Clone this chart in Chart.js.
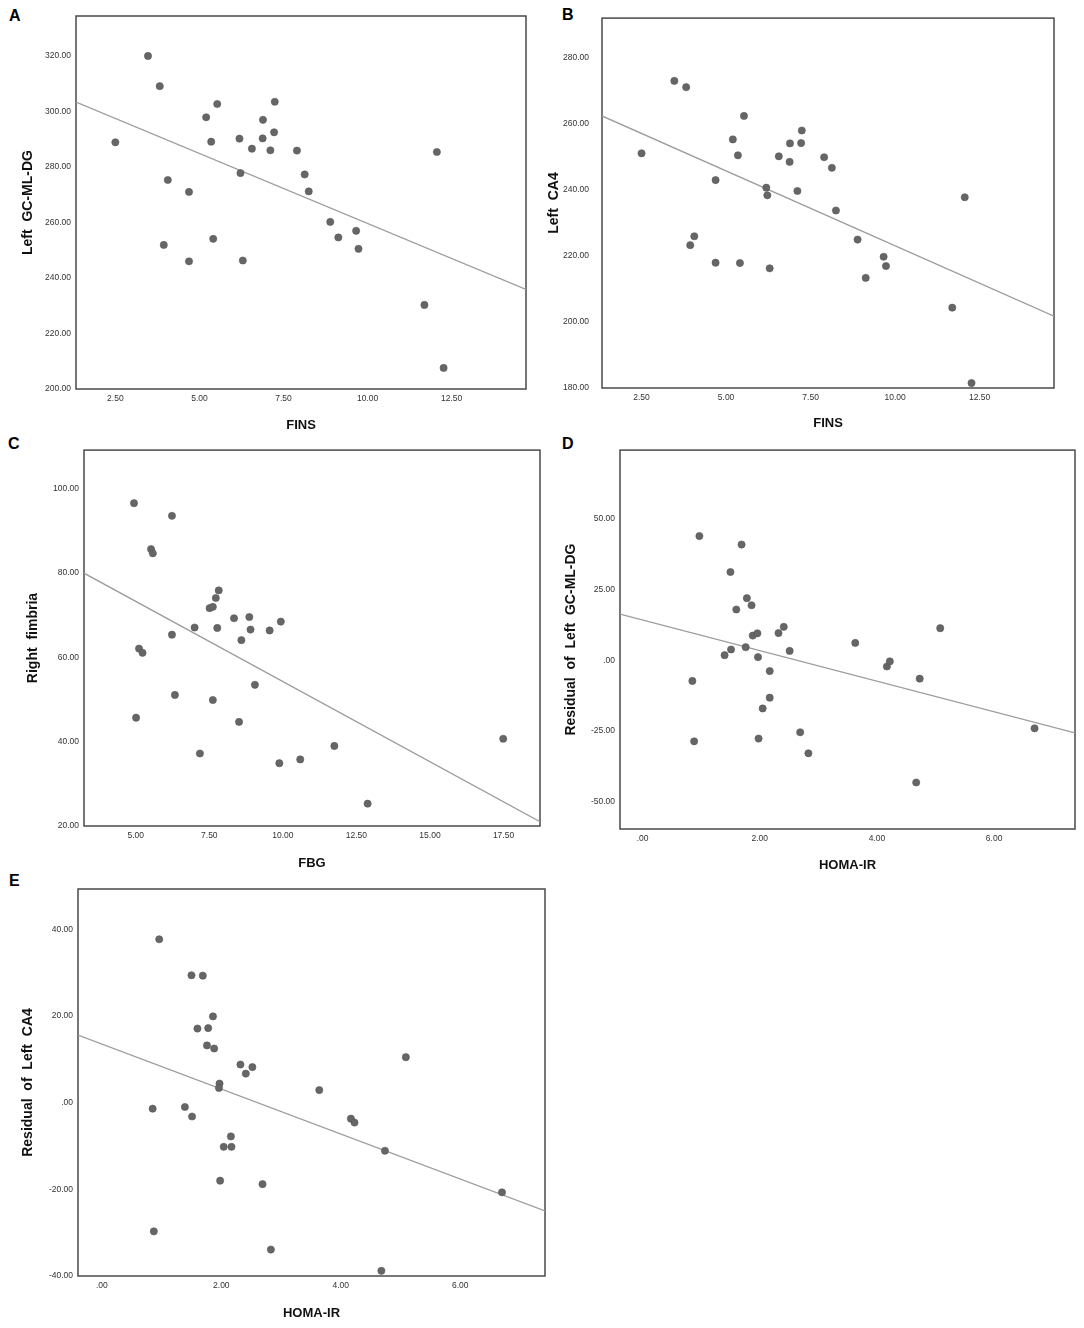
<!DOCTYPE html>
<html>
<head>
<meta charset="utf-8">
<script src="https://cdn.jsdelivr.net/npm/chart.js@4.4.0/dist/chart.umd.min.js"></script>
<style>
body { margin: 0; background: #fff; width: 1084px; height: 1328px; position: relative; overflow: hidden; font-family: "Liberation Sans", Arial, sans-serif; }
canvas { position: absolute; }
.tag { position: absolute; font-weight: bold; font-size: 16px; line-height: 16px; color: #000; }
</style>
</head>
<body>
<div class="tag" style="left:9px;top:8px">A</div>
<div class="tag" style="left:562px;top:7px">B</div>
<div class="tag" style="left:8px;top:436px">C</div>
<div class="tag" style="left:562px;top:436px">D</div>
<div class="tag" style="left:9px;top:873px">E</div>

<canvas id="chartA" width="540" height="440" style="left:0;top:0"></canvas>
<canvas id="chartB" width="544" height="440" style="left:540px;top:0"></canvas>
<canvas id="chartC" width="545" height="435" style="left:0;top:440px"></canvas>
<canvas id="chartD" width="544" height="440" style="left:540px;top:440px"></canvas>
<canvas id="chartE" width="560" height="453" style="left:0;top:875px"></canvas>

<script>
// valores
var fins = [2.5, 3.47, 3.82, 3.94, 4.06, 4.69, 4.69, 5.20, 5.35, 5.41, 5.53, 6.19, 6.22, 6.29, 6.56,
            6.89, 6.88, 7.11, 7.22, 7.24, 7.90, 8.13, 8.25, 8.89, 9.13, 9.66, 9.73, 11.69, 12.06, 12.26];
var leftGcMlDg = [288.9, 320.0, 309.1, 251.9, 275.3, 271.0, 246.0, 297.9, 289.1, 254.1, 302.7, 290.2, 277.8, 246.3, 286.6,
                  297.0, 290.3, 286.0, 292.5, 303.5, 285.9, 277.3, 271.2, 260.2, 254.6, 257.0, 250.5, 230.3, 285.4, 207.6];
var leftCa4 = [251.0, 272.9, 271.0, 223.2, 225.9, 242.9, 217.9, 255.2, 250.4, 217.8, 262.3, 240.6, 238.3, 216.2, 250.1,
               254.0, 248.4, 239.6, 254.1, 257.9, 249.8, 246.6, 233.7, 224.9, 213.3, 219.7, 216.9, 204.3, 237.7, 181.5];

var fbg = [4.94, 6.23, 5.52, 5.58, 5.11, 5.23, 5.01, 6.23, 6.33, 7.00, 7.18, 7.51, 7.62, 7.72, 7.82,
           7.77, 7.62, 8.34, 8.59, 8.51, 8.86, 8.90, 9.05, 9.55, 9.93, 9.88, 10.59, 11.75, 12.88, 17.49];
var rightFimbria = [96.6, 93.6, 85.7, 84.7, 62.1, 61.1, 45.7, 65.4, 51.1, 67.1, 37.2, 71.7, 72.0, 74.1, 75.9,
                    67.0, 49.9, 69.3, 64.1, 44.7, 69.6, 66.6, 53.5, 66.4, 68.5, 34.9, 35.8, 39.0, 25.3, 40.7];

var homaD = [0.97, 1.69, 1.50, 1.78, 1.86, 1.60, 1.88, 1.96, 2.32, 2.41, 1.51, 1.76, 1.40, 1.97, 2.51,
             0.85, 2.17, 2.17, 2.05, 0.88, 1.98, 2.69, 2.83, 3.63, 4.17, 4.22, 4.73, 5.08, 4.67, 6.69];
var residGcMlDg = [43.8, 40.8, 31.1, 21.9, 19.4, 17.9, 8.7, 9.5, 9.6, 11.8, 3.8, 4.6, 1.8, 1.1, 3.3,
                   -7.3, -3.8, -13.2, -17.0, -28.6, -27.6, -25.4, -32.8, 6.1, -2.2, -0.4, -6.5, 11.3, -43.1, -24.0];

var homaE = [0.96, 1.50, 1.69, 1.86, 1.60, 1.78, 1.76, 1.88, 2.32, 2.52, 2.41, 1.97, 1.96, 3.64, 0.85,
             1.39, 1.51, 4.17, 4.23, 2.16, 2.04, 2.17, 4.74, 5.09, 1.98, 2.69, 6.70, 0.87, 2.83, 4.68];
var residCa4 = [37.7, 29.4, 29.3, 19.9, 17.1, 17.2, 13.2, 12.5, 8.8, 8.2, 6.7, 4.4, 3.4, 2.9, -1.4,
                -1.0, -3.2, -3.7, -4.6, -7.8, -10.2, -10.2, -11.1, 10.5, -18.0, -18.8, -20.7, -29.7, -33.9, -38.8];

// rectas de ajuste (extremos del eje x)
var fitAx = [1.33, 14.71], fitAy = [303.4, 235.9];
var fitBx = [1.33, 14.70], fitBy = [262.3, 201.7];
var fitCx = [3.24, 18.74], fitCy = [80.0, 21.0];
var fitDx = [-0.385, 7.38], fitDy = [16.3, -25.6];
var fitEx = [-0.40, 7.42], fitEy = [15.6, -25.0];

// marcas de los ejes
var ticksFins = [2.5, 5, 7.5, 10, 12.5];
var ticksFbg = [5, 7.5, 10, 12.5, 15, 17.5];
var ticksHoma = [0, 2, 4, 6];
var ticksA = [200, 220, 240, 260, 280, 300, 320];
var ticksB = [180, 200, 220, 240, 260, 280];
var ticksC = [20, 40, 60, 80, 100];
var ticksD = [-50, -25, 0, 25, 50];
var ticksE = [-40, -20, 0, 20, 40];

var FAMILY = '"Liberation Sans", Arial, sans-serif';

function fmt(v) {
    return v === 0 ? '.00' : Number(v).toFixed(2);
}

function toPoints(xs, ys) {
    var out = [];
    for (var i = 0; i < xs.length; i++) out.push({ x: xs[i], y: ys[i] });
    return out;
}

var boxPlugin = {
    id: 'box',
    beforeDatasetsDraw: function (chart) {
        var a = chart.chartArea, c = chart.ctx;
        c.save();
        c.strokeStyle = '#4a4a4a';
        c.lineWidth = 1.5;
        c.strokeRect(a.left, a.top, a.right - a.left, a.bottom - a.top);
        c.restore();
    }
};

function makePanel(id, p) {
    var ctx = document.getElementById(id).getContext('2d');
    return new Chart(ctx, {
        type: 'scatter',
        data: {
            datasets: [{
                data: toPoints(p.xs, p.ys),
                pointRadius: 3.6,
                pointHoverRadius: 3.6,
                backgroundColor: '#666666',
                borderColor: '#575757',
                borderWidth: 0.6
            }, {
                type: 'line',
                data: toPoints(p.fitX, p.fitY),
                borderColor: '#9c9c9c',
                borderWidth: 1.3,
                pointRadius: 0,
                fill: false
            }]
        },
        options: {
            responsive: false,
            animation: false,
            events: [],
            layout: { padding: { top: p.padTop, right: p.padRight, left: 0, bottom: 0 } },
            plugins: { legend: { display: false }, tooltip: { enabled: false } },
            scales: {
                x: {
                    type: 'linear',
                    min: p.xMin, max: p.xMax,
                    afterBuildTicks: function (s) { s.ticks = p.xTicks.map(function (v) { return { value: v }; }); },
                    afterFit: function (s) { s.height = p.xAxisH; },
                    grid: { display: false, drawTicks: false },
                    border: { display: false },
                    ticks: { padding: 5, autoSkip: false, maxRotation: 0, color: '#333',
                             font: { size: 8.5, family: FAMILY }, callback: fmt },
                    title: { display: true, text: p.xTitle, color: '#111',
                             font: { size: 13, weight: 'bold', family: FAMILY },
                             padding: { top: 0, bottom: p.xTitlePad } }
                },
                y: {
                    type: 'linear',
                    min: p.yMin, max: p.yMax,
                    afterBuildTicks: function (s) { s.ticks = p.yTicks.map(function (v) { return { value: v }; }); },
                    afterFit: function (s) { s.width = p.yAxisW; },
                    grid: { display: false, drawTicks: false },
                    border: { display: false },
                    ticks: { padding: p.yTickPad, autoSkip: false, color: '#333',
                             font: { size: 8.5, family: FAMILY }, callback: fmt },
                    title: { display: true, text: p.yTitle, color: '#111',
                             font: { size: 14, weight: 'bold', family: FAMILY },
                             padding: { top: p.yTitlePad, bottom: 0 } }
                }
            }
        },
        plugins: [boxPlugin]
    });
}

makePanel('chartA', {
    xs: fins, ys: leftGcMlDg, fitX: fitAx, fitY: fitAy,
    xMin: 1.33, xMax: 14.71, yMin: 200, yMax: 334.4,
    xTicks: ticksFins, yTicks: ticksA,
    xTitle: 'FINS', yTitle: 'Left  GC-ML-DG',
    padTop: 16, padRight: 14, yAxisW: 76, xAxisH: 51,
    yTickPad: 5, xTitlePad: 7.2, yTitlePad: 19.6
});

makePanel('chartB', {
    xs: fins, ys: leftCa4, fitX: fitBx, fitY: fitBy,
    xMin: 1.33, xMax: 14.70, yMin: 180, yMax: 291.9,
    xTicks: ticksFins, yTicks: ticksB,
    xTitle: 'FINS', yTitle: 'Left  CA4',
    padTop: 13, padRight: 30, yAxisW: 62, xAxisH: 52,
    yTickPad: 13, xTitlePad: 9.2, yTitlePad: 5.6
});

makePanel('chartC', {
    xs: fbg, ys: rightFimbria, fitX: fitCx, fitY: fitCy,
    xMin: 3.24, xMax: 18.74, yMin: 20, yMax: 109.2,
    xTicks: ticksFbg, yTicks: ticksC,
    xTitle: 'FBG', yTitle: 'Right  fimbria',
    padTop: 8, padRight: 5, yAxisW: 84, xAxisH: 49,
    yTickPad: 5, xTitlePad: 4.2, yTitlePad: 24.6
});

makePanel('chartD', {
    xs: homaD, ys: residGcMlDg, fitX: fitDx, fitY: fitDy,
    xMin: -0.385, xMax: 7.38, yMin: -59.5, yMax: 74.1,
    xTicks: ticksHoma, yTicks: ticksD,
    xTitle: 'HOMA-IR', yTitle: 'Residual  of  Left  GC-ML-DG',
    padTop: 10, padRight: 9, yAxisW: 80, xAxisH: 51,
    yTickPad: 5, xTitlePad: 7.2, yTitlePad: 22.6
});

makePanel('chartE', {
    xs: homaE, ys: residCa4, fitX: fitEx, fitY: fitEy,
    xMin: -0.40, xMax: 7.42, yMin: -40, yMax: 49.3,
    xTicks: ticksHoma, yTicks: ticksE,
    xTitle: 'HOMA-IR', yTitle: 'Residual  of  Left  CA4',
    padTop: 14, padRight: 15, yAxisW: 78, xAxisH: 52,
    yTickPad: 5, xTitlePad: 7.2, yTitlePad: 20.2
});
</script>
</body>
</html>
